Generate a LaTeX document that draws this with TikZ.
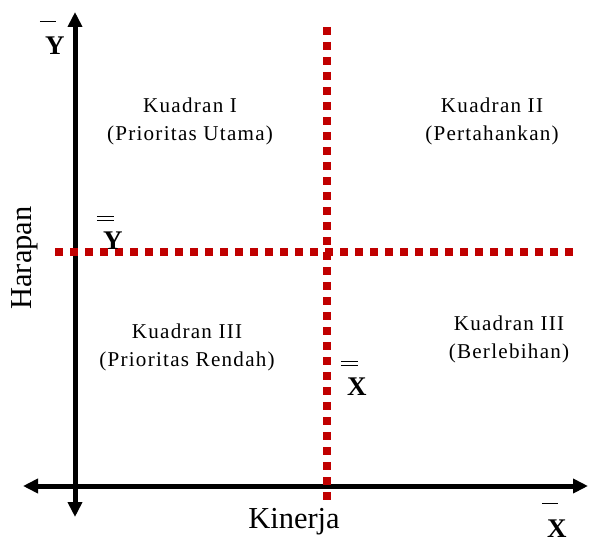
\documentclass[tikz,border=0pt]{standalone}
\usepackage{fontspec}
\setmainfont{Liberation Serif}
\newfontfamily\quadfont[LetterSpace=6]{Liberation Serif}
\usetikzlibrary{arrows.meta, positioning}

% bar(s) above a bold letter
\newcommand{\onebar}[1]{\makebox[0pt][l]{\hspace{-4.5pt}\raisebox{28pt}{\rule{14pt}{1.4pt}}}\textbf{#1}}
\newcommand{\twobar}[1]{\makebox[0pt][l]{\hspace{-5.5pt}\raisebox{28pt}{\rule{14.5pt}{1.4pt}}}\makebox[0pt][l]{\hspace{-5.5pt}\raisebox{24.5pt}{\rule{14.5pt}{1.4pt}}}\textbf{#1}}

\begin{document}
\begin{tikzpicture}[
    x=0.03cm, y=-0.03cm,
    every node/.style={font=\quadfont\fontsize{18}{24}\selectfont},
    axis/.style={line width=0.15cm, {Triangle[length=0.45cm, width=0.42cm]}-{Triangle[length=0.45cm, width=0.42cm]}},
    divider/.style={line width=0.24cm, draw=divred, dash pattern=on 0.24cm off 0.21cm},
    quad/.style={align=center, inner sep=0pt},
    axislabel/.style={font=\rmfamily\fontsize{26}{30}\selectfont},
    meanlabel/.style={font=\rmfamily\fontsize{23}{26}\selectfont, inner sep=0pt, anchor=base west}
]
    \definecolor{divred}{RGB}{192,0,0}
    \useasboundingbox (0,0) rectangle (590,543);

    % --- axes ---
    \coordinate (yTop) at (75,12);
    \coordinate (yBot) at (75,517);
    \coordinate (xLeft) at (23,486);
    \coordinate (xRight) at (588,486);
    \draw[axis] (yBot) -- (yTop);
    \draw[axis] (xLeft) -- (xRight);

    % --- mean lines ---
    \coordinate (vTop) at (327,27);
    \coordinate (vBot) at (327,500);
    \coordinate (hLeft) at (55,252);
    \coordinate (hRight) at (575,252);
    \draw[divider] (vTop) -- (vBot);
    \draw[divider] (hLeft) -- (hRight);

    % --- quadrants ---
    \node[quad] (q1) at (190,121) {Kuadran I\\(Prioritas Utama)};
    \node[quad] (q2) at (492,121) {Kuadran II\\(Pertahankan)};
    \node[quad] (q3) at (187,347) {Kuadran III\\(Prioritas Rendah)};
    \node[quad] (q4) at (509,339) {Kuadran III\\(Berlebihan)};

    % --- axis titles ---
    \node[axislabel, rotate=90] (harapan) at (25,258) {Harapan};
    \node[axislabel] (kinerja) at (294,522) {Kinerja};

    % --- means ---
    \node[meanlabel] (ybar) at (45,55) {\onebar{Y}};
    \node[meanlabel] (ydbar) at (103,250) {\twobar{Y}};
    \node[meanlabel] (xdbar) at (347,395) {\twobar{X}};
    \node[meanlabel] (xbar) at (547,537) {\onebar{X}};

\end{tikzpicture}
\end{document}
